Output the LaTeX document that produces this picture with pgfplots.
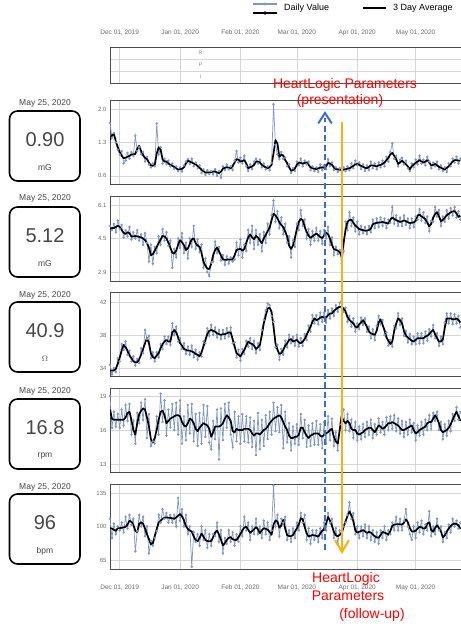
\documentclass[border=0pt]{standalone}
\usepackage{pgfplots}
\pgfplotsset{compat=1.18}
\usepackage{fontspec}
\setmainfont{Liberation Sans}
\usetikzlibrary{arrows.meta}
\definecolor{dvc}{RGB}{128,150,198}
\definecolor{hlblue}{RGB}{58,108,212}
\definecolor{hlorange}{RGB}{250,176,18}
\definecolor{txtg}{RGB}{70,70,70}
\pgfplotsset{
  panel/.style={scale only axis, width=351pt, anchor=south west,
    xmin=0, xmax=180.3, xtick={5,36,67,96,127,157}, xticklabels={},
    grid=major, grid style={line width=0.6pt, draw=gray!32},
    axis line style={draw=gray!60!black, line width=0.7pt},
    major tick length=0pt,
    yticklabel style={font=\fontsize{6}{7}\selectfont, text=gray!85!black},
    xticklabel style={font=\fontsize{6.5}{7}\selectfont, text=gray!85!black},
    /pgf/number format/assume math mode=true},
  dv/.style={color=dvc, line width=0.7pt, mark=*, mark size=0.85pt},
  av/.style={black, line width=1.7pt, line join=round, no marks},
}
\begin{document}
\begin{tikzpicture}[x=1pt,y=1pt]
\useasboundingbox (0,0) rectangle (461,630);
% legend
\draw[dvc, line width=1.6pt] (253,626) -- (277,626);
\fill[dvc] (265,626) circle (1.6);
\draw[black, line width=1.6pt] (253,617) -- (277,617);
\fill[black] (265,617) circle (1.8);
\node[anchor=west, font=\fontsize{9}{10}\selectfont, inner sep=0] at (284,622) {Daily Value};
\draw[black, line width=2.8pt] (363,622) -- (386,622);
\node[anchor=west, font=\fontsize{9}{10}\selectfont, inner sep=0] at (393,622) {3 Day Average};
% top table
\begin{axis}[panel, height=36pt, at={(110pt,547pt)}, ymin=0, ymax=3, ytick={1,2}, yticklabels={},
  xticklabels={{Dec 01, 2019},{Jan 01, 2020},{Feb 01, 2020},{Mar 01, 2020},{Apr 01, 2020},{May 01, 2020}},
  xticklabel pos=upper, xticklabel style={yshift=8pt}]
\node[font=\fontsize{5}{6}\selectfont, text=gray] at (axis cs:46.5,2.5) {R};
\node[font=\fontsize{5}{6}\selectfont, text=gray] at (axis cs:46.5,1.5) {P};
\node[font=\fontsize{5}{6}\selectfont, text=gray] at (axis cs:46.5,0.5) {I};
\end{axis}
% panel 1
\begin{axis}[panel, height=84pt, at={(110pt,446pt)}, ymin=0.43, ymax=2.19, ytick={0.6,1.3,2.0}, yticklabels={0.6,1.3,2.0}]
\addplot[dv] coordinates {(0,1.71)(1,1.40)(2,1.50)(3,1.30)(4,1.15)(5,1.05)(6,1.12)(7,0.86)(8,0.92)(9,1.08)(10,0.96)(11,1.10)(12,1.02)(13,1.44)(14,1.12)(15,1.20)(16,1.05)(17,1.10)(18,0.90)(19,1.00)(20,0.84)(21,0.78)(22,0.86)(23,0.80)(24,1.70)(25,1.05)(26,1.20)(27,0.86)(28,0.96)(29,0.85)(30,0.92)(31,0.80)(32,0.86)(33,0.75)(34,0.80)(35,0.70)(36,0.78)(37,0.69)(38,0.82)(39,0.90)(40,0.95)(41,0.85)(42,0.96)(43,0.80)(44,0.88)(45,0.76)(46,0.82)(47,0.66)(48,0.74)(49,0.62)(50,0.72)(51,0.64)(52,0.70)(53,0.63)(54,0.74)(55,0.60)(56,0.70)(57,0.56)(58,0.80)(59,0.72)(60,0.84)(61,0.74)(62,0.80)(63,0.72)(64,0.92)(65,1.12)(66,0.88)(67,0.98)(68,0.86)(69,1.02)(70,0.80)(71,0.70)(72,0.84)(73,0.74)(74,0.90)(75,0.96)(76,0.86)(77,0.94)(78,0.78)(79,0.86)(80,0.74)(81,0.80)(82,0.72)(83,0.88)(84,2.10)(85,1.25)(86,1.05)(87,0.95)(88,1.10)(89,0.96)(90,0.98)(91,0.80)(92,0.84)(93,0.66)(94,0.76)(95,0.70)(96,0.90)(97,0.82)(98,0.96)(99,0.80)(100,0.92)(101,0.84)(102,0.90)(103,0.72)(104,0.80)(105,0.70)(106,0.78)(107,0.68)(108,0.84)(109,0.72)(110,0.82)(111,0.74)(112,0.95)(113,0.80)(114,0.88)(115,0.72)(116,0.78)(117,0.68)(118,0.76)(119,0.68)(120,0.78)(121,0.70)(122,0.80)(123,0.72)(124,0.86)(125,0.76)(126,0.92)(127,0.82)(128,0.88)(129,0.74)(130,0.84)(131,0.70)(132,0.82)(133,0.72)(134,0.90)(135,0.76)(136,0.86)(137,0.74)(138,0.88)(139,0.78)(140,0.92)(141,0.80)(142,1.00)(143,0.90)(144,1.10)(145,1.28)(146,0.96)(147,1.02)(148,0.80)(149,0.94)(150,0.98)(151,0.84)(152,0.92)(153,0.76)(154,0.70)(155,0.86)(156,0.78)(157,0.94)(158,0.84)(159,1.02)(160,0.86)(161,0.94)(162,0.82)(163,1.00)(164,0.90)(165,0.76)(166,0.88)(167,0.80)(168,0.90)(169,0.74)(170,0.82)(171,0.70)(172,0.78)(173,0.68)(174,0.86)(175,0.80)(176,0.96)(177,0.88)(178,1.00)(179,0.86)(180,0.96)};
\addplot[av] coordinates {(0,1.35)(1,1.45)(2,1.48)(3,1.32)(4,1.2)(5,1.1)(6,1.02)(7,0.97)(8,0.98)(9,1.0)(10,1.02)(11,1.05)(12,1.05)(13,1.06)(14,1.17)(15,1.23)(16,1.12)(17,1.03)(18,0.98)(19,0.95)(20,0.88)(21,0.82)(22,0.81)(23,0.83)(24,1.07)(25,1.2)(26,1.15)(27,0.95)(28,0.9)(29,0.9)(30,0.86)(31,0.83)(32,0.81)(33,0.79)(34,0.76)(35,0.73)(36,0.74)(37,0.75)(38,0.78)(39,0.86)(40,0.92)(41,0.9)(42,0.88)(43,0.86)(44,0.84)(45,0.81)(46,0.77)(47,0.73)(48,0.7)(49,0.67)(50,0.67)(51,0.67)(52,0.68)(53,0.69)(54,0.69)(55,0.67)(56,0.66)(57,0.69)(58,0.75)(59,0.77)(60,0.78)(61,0.77)(62,0.76)(63,0.81)(64,0.88)(65,0.95)(66,0.94)(67,0.9)(68,0.91)(69,0.93)(70,0.86)(71,0.76)(72,0.78)(73,0.8)(74,0.83)(75,0.9)(76,0.9)(77,0.88)(78,0.83)(79,0.8)(80,0.78)(81,0.76)(82,0.79)(83,0.83)(84,1.07)(85,1.35)(86,1.28)(87,1.0)(88,1.04)(89,1.03)(90,0.93)(91,0.87)(92,0.78)(93,0.71)(94,0.72)(95,0.76)(96,0.83)(97,0.88)(98,0.87)(99,0.86)(100,0.87)(101,0.88)(102,0.83)(103,0.78)(104,0.76)(105,0.75)(106,0.74)(107,0.76)(108,0.77)(109,0.78)(110,0.77)(111,0.8)(112,0.87)(113,0.86)(114,0.83)(115,0.78)(116,0.74)(117,0.74)(118,0.73)(119,0.73)(120,0.73)(121,0.74)(122,0.75)(123,0.76)(124,0.78)(125,0.81)(126,0.84)(127,0.85)(128,0.83)(129,0.81)(130,0.79)(131,0.77)(132,0.76)(133,0.79)(134,0.82)(135,0.82)(136,0.81)(137,0.8)(138,0.82)(139,0.83)(140,0.85)(141,0.88)(142,0.93)(143,0.98)(144,1.05)(145,1.08)(146,1.02)(147,0.95)(148,0.85)(149,0.88)(150,0.92)(151,0.88)(152,0.84)(153,0.8)(154,0.74)(155,0.8)(156,0.84)(157,0.87)(158,0.9)(159,0.93)(160,0.9)(161,0.88)(162,0.9)(163,0.93)(164,0.88)(165,0.82)(166,0.83)(167,0.85)(168,0.82)(169,0.79)(170,0.77)(171,0.75)(172,0.73)(173,0.77)(174,0.8)(175,0.85)(176,0.9)(177,0.93)(178,0.93)(179,0.92)(180,0.92)};
\end{axis}
% panel 2
\begin{axis}[panel, height=85pt, at={(110pt,349pt)}, ymin=2.47, ymax=6.53, ytick={2.9,4.5,6.1}, yticklabels={2.9,4.5,6.1}]
\addplot[dv] coordinates {(0,5.10)(1,4.90)(2,5.20)(3,4.80)(4,5.35)(5,4.95)(6,5.15)(7,4.55)(8,4.90)(9,4.60)(10,5.05)(11,4.45)(12,4.80)(13,4.50)(14,4.90)(15,4.40)(16,4.70)(17,4.20)(18,4.75)(19,4.30)(20,3.40)(21,4.20)(22,3.30)(23,4.10)(24,3.80)(25,4.60)(26,4.20)(27,4.95)(28,4.40)(29,4.80)(30,4.15)(31,4.40)(32,3.10)(33,4.00)(34,3.60)(35,4.50)(36,4.05)(37,4.75)(38,3.80)(39,4.30)(40,3.55)(41,4.50)(42,4.10)(43,5.10)(44,4.00)(45,4.45)(46,3.85)(47,4.20)(48,3.10)(49,3.55)(50,2.90)(51,2.70)(52,3.35)(53,3.40)(54,4.35)(55,3.80)(56,4.10)(57,3.45)(58,3.70)(59,3.25)(60,3.65)(61,3.30)(62,3.60)(63,3.40)(64,3.50)(65,4.30)(66,3.70)(67,4.45)(68,3.60)(69,4.20)(70,3.90)(71,4.90)(72,4.30)(73,5.10)(74,4.00)(75,4.90)(76,4.20)(77,4.70)(78,3.90)(79,4.80)(80,4.30)(81,5.20)(82,4.70)(83,5.60)(84,6.30)(85,5.30)(86,5.80)(87,5.00)(88,5.50)(89,4.70)(90,5.20)(91,4.30)(92,4.60)(93,3.60)(94,4.40)(95,4.10)(96,5.20)(97,4.90)(98,5.85)(99,5.10)(100,5.40)(101,4.50)(102,4.95)(103,4.20)(104,4.85)(105,4.40)(106,5.00)(107,4.40)(108,4.85)(109,4.25)(110,4.90)(111,4.50)(112,5.05)(113,4.20)(114,4.55)(115,3.70)(116,4.10)(117,3.75)(118,3.95)(119,3.30)(120,3.90)(121,5.30)(122,4.90)(123,5.75)(124,5.10)(125,5.50)(126,4.85)(127,5.30)(128,4.70)(129,5.10)(130,4.75)(131,5.05)(132,4.70)(133,5.10)(134,4.80)(135,5.40)(136,5.00)(137,5.45)(138,5.05)(139,5.50)(140,5.10)(141,5.45)(142,5.00)(143,5.40)(144,5.25)(145,6.00)(146,5.20)(147,5.60)(148,5.10)(149,5.50)(150,5.10)(151,5.60)(152,5.15)(153,5.45)(154,5.00)(155,5.45)(156,5.05)(157,5.55)(158,5.40)(159,5.90)(160,5.35)(161,5.75)(162,5.25)(163,5.55)(164,4.85)(165,5.35)(166,5.30)(167,6.00)(168,5.55)(169,5.85)(170,5.10)(171,5.55)(172,5.30)(173,5.85)(174,5.45)(175,5.95)(176,5.60)(177,6.00)(178,5.50)(179,5.80)(180,5.40)};
\addplot[av] coordinates {(0,4.98)(1,5.0)(2,5.0)(3,5.05)(4,5.11)(5,5.05)(6,4.9)(7,4.77)(8,4.72)(9,4.8)(10,4.75)(11,4.6)(12,4.6)(13,4.62)(14,4.6)(15,4.58)(16,4.55)(17,4.5)(18,4.42)(19,4.28)(20,4.07)(21,3.7)(22,3.75)(23,3.92)(24,4.1)(25,4.28)(26,4.45)(27,4.62)(28,4.6)(29,4.5)(30,4.3)(31,4.06)(32,3.82)(33,3.78)(34,3.92)(35,4.2)(36,4.42)(37,4.32)(38,4.18)(39,3.95)(40,4.03)(41,4.24)(42,4.46)(43,4.5)(44,4.28)(45,4.16)(46,4.11)(47,3.8)(48,3.39)(49,3.2)(50,3.06)(51,3.04)(52,3.3)(53,3.71)(54,3.95)(55,4.07)(56,3.88)(57,3.7)(58,3.5)(59,3.48)(60,3.49)(61,3.5)(62,3.5)(63,3.5)(64,3.7)(65,3.95)(66,3.99)(67,4.0)(68,3.92)(69,4.0)(70,4.3)(71,4.55)(72,4.7)(73,4.55)(74,4.47)(75,4.62)(76,4.55)(77,4.4)(78,4.28)(79,4.5)(80,4.68)(81,4.85)(82,5.02)(83,5.37)(84,5.69)(85,5.6)(86,5.47)(87,5.27)(88,5.14)(89,5.05)(90,4.82)(91,4.6)(92,4.16)(93,4.0)(94,4.16)(95,4.55)(96,4.95)(97,5.3)(98,5.44)(99,5.38)(100,5.05)(101,4.82)(102,4.63)(103,4.53)(104,4.6)(105,4.68)(106,4.73)(107,4.66)(108,4.57)(109,4.52)(110,4.65)(111,4.78)(112,4.7)(113,4.5)(114,4.2)(115,3.99)(116,3.96)(117,3.92)(118,3.86)(119,3.63)(120,4.3)(121,4.9)(122,5.3)(123,5.38)(124,5.4)(125,5.25)(126,5.12)(127,5.04)(128,4.95)(129,4.92)(130,4.9)(131,4.87)(132,4.88)(133,4.9)(134,4.98)(135,5.18)(136,5.22)(137,5.25)(138,5.26)(139,5.27)(140,5.29)(141,5.26)(142,5.24)(143,5.21)(144,5.4)(145,5.5)(146,5.43)(147,5.38)(148,5.33)(149,5.29)(150,5.32)(151,5.36)(152,5.33)(153,5.27)(154,5.24)(155,5.25)(156,5.27)(157,5.34)(158,5.6)(159,5.64)(160,5.55)(161,5.5)(162,5.42)(163,5.25)(164,5.08)(165,5.2)(166,5.5)(167,5.67)(168,5.76)(169,5.55)(170,5.33)(171,5.38)(172,5.5)(173,5.61)(174,5.68)(175,5.75)(176,5.79)(177,5.81)(178,5.7)(179,5.53)(180,5.59)};
\end{axis}
% panel 3
\begin{axis}[panel, height=84pt, at={(110pt,254pt)}, ymin=33.03, ymax=43.2, ytick={34,38,42}, yticklabels={34,38,42}]
\addplot[dv] coordinates {(0,34.4)(1,33.2)(2,34.0)(3,33.5)(4,35.2)(5,34.8)(6,36.9)(7,36.2)(8,37.2)(9,35.6)(10,36.1)(11,34.8)(12,35.4)(13,34.3)(14,35.1)(15,34.6)(16,36.4)(17,35.8)(18,38.6)(19,37.5)(20,37.9)(21,35.2)(22,35.9)(23,34.8)(24,35.9)(25,35.3)(26,36.9)(27,36.3)(28,37.8)(29,36.9)(30,37.8)(31,36.8)(32,39.4)(33,38.0)(34,39.0)(35,37.2)(36,37.6)(37,36.3)(38,37.0)(39,35.7)(40,36.6)(41,35.6)(42,36.7)(43,35.3)(44,36.2)(45,35.0)(46,35.9)(47,35.4)(48,37.2)(49,37.0)(50,38.8)(51,37.9)(52,39.2)(53,38.0)(54,38.9)(55,37.7)(56,38.6)(57,37.5)(58,38.6)(59,37.6)(60,38.8)(61,37.8)(62,38.9)(63,37.0)(64,37.1)(65,35.3)(66,36.2)(67,34.9)(68,36.3)(69,35.7)(70,37.3)(71,36.6)(72,37.6)(73,36.3)(74,37.3)(75,35.8)(76,37.0)(77,36.2)(78,38.6)(79,39.8)(80,41.0)(81,41.8)(82,41.6)(83,40.3)(84,39.6)(85,36.5)(86,36.8)(87,35.0)(88,36.3)(89,35.6)(90,37.3)(91,36.5)(92,38.0)(93,37.0)(94,37.8)(95,36.7)(96,38.0)(97,36.6)(98,37.6)(99,36.7)(100,38.1)(101,37.4)(102,39.1)(103,38.4)(104,40.4)(105,39.4)(106,40.4)(107,39.3)(108,40.7)(109,39.6)(110,40.7)(111,39.5)(112,41.0)(113,40.0)(114,41.2)(115,40.3)(116,41.6)(117,40.8)(118,41.9)(119,42.1)(120,40.8)(121,41.3)(122,39.6)(123,40.3)(124,39.0)(125,40.0)(126,38.4)(127,39.4)(128,38.7)(129,40.1)(130,39.2)(131,40.0)(132,38.4)(133,39.0)(134,37.6)(135,38.7)(136,37.4)(137,39.1)(138,40.3)(139,39.3)(140,39.8)(141,38.0)(142,38.3)(143,36.7)(144,37.4)(145,36.6)(146,39.1)(147,38.8)(148,40.6)(149,39.2)(150,40.0)(151,37.9)(152,38.5)(153,37.1)(154,38.1)(155,36.9)(156,37.8)(157,36.9)(158,38.2)(159,37.0)(160,38.2)(161,37.0)(162,38.4)(163,37.3)(164,38.7)(165,37.8)(166,39.2)(167,37.6)(168,38.2)(169,36.7)(170,37.8)(171,36.9)(172,39.5)(173,40.6)(174,39.4)(175,40.6)(176,39.3)(177,40.5)(178,39.4)(179,40.3)(180,38.9)};
\addplot[av] coordinates {(0,33.7)(1,33.7)(2,33.7)(3,33.9)(4,34.5)(5,35.3)(6,36.1)(7,36.8)(8,36.5)(9,36.1)(10,35.5)(11,35.2)(12,34.8)(13,34.7)(14,34.7)(15,35.1)(16,35.6)(17,36.3)(18,37.0)(19,37.6)(20,37.0)(21,35.8)(22,35.3)(23,35.2)(24,35.5)(25,35.8)(26,36.4)(27,36.9)(28,37.2)(29,37.4)(30,37.2)(31,37.2)(32,38.3)(33,38.6)(34,38.3)(35,37.7)(36,37.0)(37,36.7)(38,36.3)(39,36.2)(40,36.1)(41,36.1)(42,36.0)(43,35.9)(44,35.7)(45,35.6)(46,35.4)(47,35.9)(48,36.6)(49,37.4)(50,38.1)(51,38.5)(52,38.6)(53,38.5)(54,38.4)(55,38.2)(56,38.1)(57,38.0)(58,38.1)(59,38.1)(60,38.2)(61,38.3)(62,38.3)(63,37.5)(64,36.6)(65,35.8)(66,35.6)(67,35.4)(68,35.8)(69,36.2)(70,36.7)(71,37.2)(72,37.0)(73,36.9)(74,36.7)(75,36.3)(76,36.5)(77,36.8)(78,38.0)(79,39.4)(80,40.3)(81,41.2)(82,41.3)(83,40.8)(84,39.0)(85,37.0)(86,36.2)(87,35.7)(88,35.8)(89,36.2)(90,36.7)(91,37.0)(92,37.4)(93,37.5)(94,37.2)(95,37.3)(96,37.4)(97,37.1)(98,37.0)(99,37.2)(100,37.5)(101,38.0)(102,38.5)(103,39.0)(104,39.6)(105,40.0)(106,39.8)(107,39.9)(108,40.1)(109,40.2)(110,40.1)(111,40.1)(112,40.4)(113,40.6)(114,40.6)(115,40.9)(116,41.1)(117,41.3)(118,41.4)(119,41.4)(120,41.2)(121,40.8)(122,40.2)(123,39.8)(124,39.6)(125,39.4)(126,39.0)(127,38.9)(128,39.3)(129,39.5)(130,39.8)(131,39.4)(132,39.0)(133,38.4)(134,38.2)(135,38.1)(136,38.0)(137,38.5)(138,39.5)(139,39.9)(140,39.2)(141,38.6)(142,37.7)(143,37.3)(144,36.9)(145,37.2)(146,38.5)(147,39.4)(148,40.0)(149,39.8)(150,39.4)(151,38.5)(152,37.9)(153,37.7)(154,37.5)(155,37.3)(156,37.2)(157,37.4)(158,37.6)(159,37.6)(160,37.6)(161,37.6)(162,37.8)(163,37.9)(164,38.1)(165,38.4)(166,38.6)(167,38.1)(168,37.6)(169,37.2)(170,37.2)(171,37.5)(172,38.9)(173,40.0)(174,40.0)(175,40.0)(176,39.9)(177,39.9)(178,40.0)(179,39.8)(180,39.5)};
\end{axis}
% panel 4
\begin{axis}[panel, height=84pt, at={(110pt,158pt)}, ymin=12.3, ymax=19.7, ytick={13,16,19}, yticklabels={13,16,19}]
\addplot[dv] coordinates {(0,19.0)(1,16.2)(2,17.6)(3,16.3)(4,17.4)(5,16.2)(6,17.8)(7,16.4)(8,18.2)(9,16.8)(10,18.3)(11,15.6)(12,16.8)(13,14.8)(14,17.5)(15,16.6)(16,18.4)(17,16.9)(18,18.7)(19,15.3)(20,17.4)(21,14.6)(22,15.0)(23,14.8)(24,17.2)(25,15.6)(26,19.2)(27,16.7)(28,18.6)(29,15.5)(30,17.8)(31,16.2)(32,18.3)(33,16.0)(34,18.4)(35,15.6)(36,18.6)(37,14.8)(38,17.2)(39,15.1)(40,18.2)(41,15.7)(42,18.3)(43,15.0)(44,17.4)(45,14.6)(46,17.5)(47,14.8)(48,18.2)(49,15.4)(50,18.1)(51,14.9)(52,14.3)(53,16.8)(54,15.2)(55,17.8)(56,13.4)(57,17.9)(58,15.1)(59,18.3)(60,16.2)(61,18.4)(62,15.6)(63,14.5)(64,17.6)(65,15.0)(66,17.2)(67,14.8)(68,17.4)(69,15.0)(70,17.2)(71,14.9)(72,17.1)(73,14.5)(74,16.8)(75,13.8)(76,17.5)(77,14.3)(78,16.9)(79,14.6)(80,17.3)(81,15.2)(82,17.6)(83,15.6)(84,18.4)(85,15.9)(86,18.0)(87,15.8)(88,18.2)(89,14.4)(90,17.6)(91,14.9)(92,16.6)(93,14.2)(94,16.3)(95,14.8)(96,16.5)(97,14.7)(98,17.4)(99,15.3)(100,16.9)(101,14.5)(102,16.4)(103,14.6)(104,16.6)(105,14.7)(106,16.8)(107,14.7)(108,16.5)(109,14.4)(110,16.7)(111,14.8)(112,17.2)(113,15.1)(114,17.0)(115,14.6)(116,15.8)(117,14.2)(118,16.5)(119,17.6)(120,17.8)(121,16.0)(122,17.4)(123,15.9)(124,16.9)(125,15.3)(126,16.7)(127,15.1)(128,16.3)(129,15.2)(130,16.5)(131,15.4)(132,16.7)(133,15.6)(134,16.9)(135,15.3)(136,16.5)(137,15.6)(138,17.0)(139,15.8)(140,16.7)(141,15.6)(142,17.1)(143,16.0)(144,17.2)(145,16.1)(146,17.3)(147,15.9)(148,17.0)(149,15.7)(150,16.8)(151,15.4)(152,16.7)(153,15.6)(154,16.9)(155,15.8)(156,16.6)(157,15.1)(158,16.4)(159,15.5)(160,16.7)(161,15.6)(162,16.9)(163,16.0)(164,17.3)(165,16.1)(166,17.5)(167,16.8)(168,17.6)(169,16.0)(170,16.7)(171,15.2)(172,16.5)(173,15.5)(174,16.8)(175,15.9)(176,17.4)(177,16.8)(178,18.0)(179,16.9)(180,17.6)};
\addplot[av] coordinates {(0,17.8)(1,17.0)(2,16.9)(3,16.9)(4,16.9)(5,16.9)(6,16.9)(7,16.9)(8,17.1)(9,17.5)(10,17.6)(11,16.9)(12,16.0)(13,15.6)(14,16.6)(15,17.4)(16,17.7)(17,17.9)(18,17.8)(19,17.1)(20,16.3)(21,15.2)(22,14.9)(23,15.3)(24,16.0)(25,16.9)(26,17.6)(27,17.7)(28,17.3)(29,16.6)(30,16.8)(31,17.0)(32,17.1)(33,17.2)(34,17.3)(35,17.3)(36,17.2)(37,16.7)(38,16.4)(39,16.3)(40,16.6)(41,17.0)(42,16.9)(43,16.6)(44,16.1)(45,15.9)(46,16.2)(47,16.4)(48,16.6)(49,16.5)(50,16.4)(51,16.1)(52,15.4)(53,15.8)(54,16.3)(55,16.3)(56,16.3)(57,16.4)(58,16.6)(59,17.0)(60,17.3)(61,17.1)(62,16.8)(63,15.9)(64,15.8)(65,16.1)(66,16.0)(67,16.0)(68,16.0)(69,16.1)(70,16.1)(71,16.1)(72,16.0)(73,15.7)(74,15.5)(75,15.7)(76,15.7)(77,15.6)(78,15.8)(79,16.0)(80,16.1)(81,16.3)(82,16.6)(83,16.8)(84,17.0)(85,17.1)(86,17.2)(87,17.3)(88,17.1)(89,16.7)(90,16.3)(91,16.0)(92,15.5)(93,15.3)(94,15.3)(95,15.4)(96,15.4)(97,15.6)(98,16.2)(99,16.2)(100,15.8)(101,15.5)(102,15.3)(103,15.5)(104,15.6)(105,15.7)(106,15.7)(107,15.7)(108,15.5)(109,15.4)(110,15.6)(111,15.7)(112,15.8)(113,16.0)(114,16.1)(115,15.4)(116,15.0)(117,14.8)(118,16.0)(119,17.2)(120,16.8)(121,16.6)(122,16.8)(123,16.6)(124,16.1)(125,16.0)(126,16.0)(127,15.7)(128,15.6)(129,15.7)(130,15.8)(131,16.0)(132,16.1)(133,16.2)(134,16.2)(135,16.0)(136,15.8)(137,16.1)(138,16.4)(139,16.3)(140,16.1)(141,16.2)(142,16.4)(143,16.6)(144,16.6)(145,16.7)(146,16.6)(147,16.5)(148,16.4)(149,16.2)(150,16.0)(151,16.0)(152,16.1)(153,16.2)(154,16.3)(155,16.4)(156,16.0)(157,15.7)(158,15.8)(159,16.0)(160,16.1)(161,16.2)(162,16.3)(163,16.6)(164,16.7)(165,16.7)(166,17.0)(167,17.3)(168,17.0)(169,16.6)(170,16.0)(171,15.8)(172,15.9)(173,16.0)(174,16.2)(175,16.5)(176,16.9)(177,17.3)(178,17.6)(179,17.2)(180,16.8)};
\end{axis}
% panel 5
\begin{axis}[panel, height=85pt, at={(110pt,61pt)}, ymin=55.6, ymax=144.4, ytick={65,100,135}, yticklabels={65,100,135},
  xticklabels={{Dec 01, 2019},{Jan 01, 2020},{Feb 01, 2020},{Mar 01, 2020},{Apr 01, 2020},{May 01, 2020}},
  xticklabel style={yshift=-12pt}]
\addplot[dv] coordinates {(0,108)(1,88)(2,103)(3,92)(4,100)(5,96)(6,104)(7,94)(8,110)(9,98)(10,112)(11,102)(12,108)(13,74)(14,95)(15,112)(16,100)(17,110)(18,90)(19,100)(20,72)(21,85)(22,80)(23,88)(24,95)(25,112)(26,104)(27,118)(28,108)(29,114)(30,104)(31,112)(32,104)(33,112)(34,100)(35,130)(36,106)(37,118)(38,100)(39,112)(40,92)(41,100)(42,58)(43,94)(44,84)(45,92)(46,80)(47,100)(48,86)(49,96)(50,78)(51,92)(52,80)(53,92)(54,90)(55,104)(56,84)(57,96)(58,72)(59,88)(60,82)(61,96)(62,84)(63,94)(64,80)(65,92)(66,84)(67,100)(68,90)(69,110)(70,96)(71,104)(72,86)(73,100)(74,92)(75,108)(76,92)(77,100)(78,88)(79,106)(80,92)(81,104)(82,86)(83,96)(84,143)(85,100)(86,112)(87,90)(88,108)(89,104)(90,110)(91,86)(92,96)(93,84)(94,98)(95,88)(96,104)(97,96)(98,114)(99,104)(100,112)(101,86)(102,98)(103,82)(104,96)(105,86)(106,96)(107,84)(108,98)(109,88)(110,104)(111,96)(112,114)(113,104)(114,108)(115,88)(116,98)(117,82)(118,96)(119,88)(120,100)(121,104)(122,112)(123,125)(124,108)(125,114)(126,92)(127,100)(128,88)(129,100)(130,90)(131,102)(132,88)(133,100)(134,86)(135,96)(136,84)(137,94)(138,82)(139,96)(140,88)(141,100)(142,86)(143,96)(144,92)(145,104)(146,96)(147,110)(148,96)(149,108)(150,96)(151,106)(152,118)(153,100)(154,92)(155,86)(156,100)(157,88)(158,104)(159,94)(160,106)(161,92)(162,102)(163,96)(164,116)(165,90)(166,100)(167,92)(168,108)(169,96)(170,100)(171,84)(172,94)(173,88)(174,102)(175,94)(176,108)(177,100)(178,106)(179,98)(180,104)};
\addplot[av] coordinates {(0,98.3)(1,97.9)(2,96.5)(3,95.5)(4,98.3)(5,98.3)(6,98.6)(7,99.1)(8,99.7)(9,102)(10,106)(11,105)(12,101.8)(13,95.5)(14,94)(15,103)(16,104.5)(17,102.8)(18,97.8)(19,92)(20,86.8)(21,81.5)(22,82.5)(23,90.2)(24,97.5)(25,104)(26,106)(27,108.2)(28,109)(29,109.5)(30,109.2)(31,109)(32,108.6)(33,108)(34,109.5)(35,111.3)(36,113)(37,110.5)(38,106.5)(39,100.4)(40,97.4)(41,95.8)(42,94.8)(43,89.5)(44,85.7)(45,84.6)(46,88)(47,92.5)(48,89.5)(49,85.8)(50,84.8)(51,84.5)(52,84.9)(53,88.8)(54,93.8)(55,95.8)(56,91.6)(57,86.4)(58,80.1)(59,82.5)(60,86)(61,88.1)(62,88.9)(63,86.7)(64,86)(65,86)(66,88.9)(67,92)(68,96.2)(69,98.8)(70,99.8)(71,96.5)(72,93.4)(73,95.1)(74,97.2)(75,99.3)(76,97.2)(77,93)(78,96.2)(79,98.2)(80,97.5)(81,96.7)(82,94.4)(83,91.3)(84,102)(85,106.3)(86,105.3)(87,98.7)(88,101)(89,107)(90,97.6)(91,91)(92,90)(93,89.9)(94,91.1)(95,94.8)(96,97.9)(97,102.5)(98,108.6)(99,107.6)(100,99.5)(101,93)(102,89.6)(103,90.3)(104,91.1)(105,90.7)(106,90.2)(107,89.5)(108,92.6)(109,95.5)(110,97.3)(111,103)(112,110)(113,106)(114,100.8)(115,94.5)(116,90.8)(117,89.8)(118,91.4)(119,93)(120,99.5)(121,105.5)(122,111)(123,115.8)(124,111.5)(125,105.5)(126,96)(127,93.6)(128,94.5)(129,95.3)(130,96.3)(131,94.8)(132,93.2)(133,94.3)(134,93.7)(135,91.5)(136,89.8)(137,88.5)(138,88.3)(139,91)(140,94.3)(141,93.6)(142,92.7)(143,91.3)(144,95.5)(145,100.5)(146,102)(147,102.3)(148,102.5)(149,102.3)(150,102)(151,104)(152,107.5)(153,104.5)(154,98.5)(155,94.8)(156,94.8)(157,95.6)(158,97.8)(159,99.7)(160,99.1)(161,97.8)(162,98.4)(163,103)(164,104.4)(165,96.2)(166,94.5)(167,98.5)(168,101.3)(169,98.2)(170,94.6)(171,88.6)(172,90.8)(173,94.8)(174,97.9)(175,100.6)(176,102.3)(177,103.1)(178,102.5)(179,101.3)(180,97.4)};
\end{axis}
% left value boxes
\foreach \yb/\yd/\val/\unit in {449/527/0.90/mG, 353/432/5.12/mG, 258/335/40.9/$\Omega$, 161/239/16.8/rpm, 66/143/96/bpm}{
  \draw[black, line width=1.6pt, rounded corners=8pt] (9.5,\yb) rectangle (80,\yb+70);
  \node[font=\fontsize{8.5}{9}\selectfont, text=txtg] at (45,\yd) {May 25, 2020};
  \node[font=\fontsize{20}{21}\selectfont, text=txtg] at (45,\yb+41) {\val};
  \node[font=\fontsize{8.5}{9}\selectfont, text=txtg] at (45,\yb+13) {\unit};
}
% HeartLogic markers
\draw[hlblue, line width=2pt, dash pattern=on 6pt off 3.5pt] (325,80) -- (325,512);
\draw[hlblue, line width=2pt, line cap=round, line join=miter] (318.5,507) -- (325,517) -- (331.5,507);
\draw[hlorange, line width=1.5pt] (342,508) -- (342,80);
\draw[hlorange, line width=2pt, line join=miter] (335,90) -- (342,78) -- (349,90);
\node[text=red, font=\fontsize{14}{15}\selectfont] at (345,545) {HeartLogic Parameters};
\node[text=red, font=\fontsize{14}{15}\selectfont] at (340,529) {(presentation)};
\node[text=red, font=\fontsize{14}{15}\selectfont] at (346,51) {HeartLogic};
\node[text=red, font=\fontsize{14}{15}\selectfont] at (348,34) {Parameters};
\node[text=red, font=\fontsize{14}{15}\selectfont] at (372,15) {(follow-up)};
\end{tikzpicture}
\end{document}
